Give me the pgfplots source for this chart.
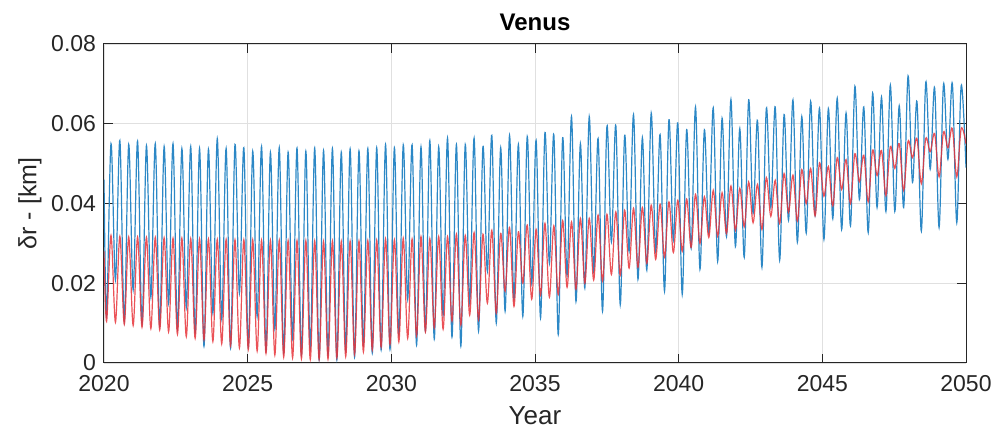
\documentclass[border=0pt]{standalone}
\usepackage{fontspec}
\setmainfont{Liberation Sans}
\usepackage{pgfplots}
\pgfplotsset{compat=1.18}
\definecolor{bl}{RGB}{44,136,198}
\definecolor{rd}{RGB}{232,52,58}
\definecolor{axc}{RGB}{38,38,38}
\begin{document}
\begin{tikzpicture}
\begin{axis}[
  scale only axis, width=431pt, height=159.5pt,
  xmin=2020, xmax=2050, ymin=0, ymax=0.08,
  scaled y ticks=false, scaled x ticks=false,
  xtick={2020,2025,2030,2035,2040,2045,2050},
  xticklabels={2020,2025,2030,2035,2040,2045,2050},
  ytick={0,0.02,0.04,0.06,0.08},
  yticklabels={0,0.02,0.04,0.06,0.08},
  tick align=inside, xtick pos=both, ytick pos=both,
  major tick length=4.5pt,
  grid=major, grid style={black!12, line width=0.4pt},
  axis line style={axc, line width=0.5pt},
  tick style={axc, line width=0.5pt},
  ticklabel style={font=\fontsize{11.5}{13}\selectfont, text=axc, inner sep=0pt},
  xticklabel style={yshift=-5.8pt},
  yticklabel style={xshift=-3.8pt},
  /pgf/number format/assume math mode=true,
  title={Venus},
  title style={at={(axis description cs:0.5,1.069)}, anchor=center, yshift=-6pt, font=\bfseries\fontsize{12}{14}\selectfont},
  xlabel={Year},
  xlabel style={at={(axis description cs:0.5,-0.166)}, anchor=center, font=\fontsize{13}{15}\selectfont, text=axc},
  ylabel={δr - [km]},
  ylabel style={at={(axis description cs:-0.086,0.5)}, anchor=center, rotate=0, font=\fontsize{12.5}{14}\selectfont, text=axc},
]
\coordinate (bl0) at (rel axis cs:0,0);
\addplot[bl, line width=0.6pt, smooth, tension=0.55] coordinates {
(2020.000,0.0460)
(2020.090,0.0117)(2020.244,0.0550)(2020.398,0.0208)(2020.552,0.0558)
(2020.706,0.0105)(2020.860,0.0548)(2021.015,0.0183)(2021.169,0.0556)
(2021.323,0.0098)(2021.477,0.0545)(2021.631,0.0165)(2021.785,0.0550)
(2021.939,0.0092)(2022.093,0.0543)(2022.248,0.0150)(2022.402,0.0550)
(2022.556,0.0085)(2022.710,0.0538)(2022.864,0.0140)(2023.018,0.0543)
(2023.172,0.0075)(2023.326,0.0538)(2023.480,0.0042)(2023.634,0.0536)
(2023.789,0.0125)(2023.943,0.0563)(2024.097,0.0110)(2024.251,0.0538)
(2024.405,0.0037)(2024.559,0.0548)(2024.713,0.0175)(2024.867,0.0540)
(2025.022,0.0040)(2025.176,0.0531)(2025.330,0.0117)(2025.484,0.0543)
(2025.638,0.0030)(2025.792,0.0528)(2025.946,0.0085)(2026.100,0.0540)
(2026.254,0.0025)(2026.408,0.0529)(2026.563,0.0060)(2026.717,0.0539)
(2026.871,0.0020)(2027.025,0.0531)(2027.179,0.0035)(2027.333,0.0539)
(2027.487,0.0008)(2027.641,0.0533)(2027.796,0.0020)(2027.950,0.0538)
(2028.104,0.0008)(2028.258,0.0529)(2028.412,0.0030)(2028.566,0.0537)
(2028.720,0.0015)(2028.874,0.0532)(2029.028,0.0045)(2029.182,0.0538)
(2029.337,0.0025)(2029.491,0.0540)(2029.645,0.0033)(2029.799,0.0548)
(2029.953,0.0034)(2030.107,0.0540)(2030.261,0.0070)(2030.415,0.0547)
(2030.569,0.0160)(2030.723,0.0547)(2030.878,0.0045)(2031.032,0.0542)
(2031.186,0.0080)(2031.340,0.0558)(2031.494,0.0060)(2031.648,0.0542)
(2031.802,0.0120)(2031.956,0.0564)(2032.111,0.0065)(2032.265,0.0548)
(2032.419,0.0042)(2032.573,0.0548)(2032.727,0.0150)(2032.881,0.0564)
(2033.035,0.0080)(2033.189,0.0543)(2033.343,0.0230)(2033.497,0.0571)
(2033.652,0.0100)(2033.806,0.0540)(2033.960,0.0130)(2034.114,0.0571)
(2034.268,0.0160)(2034.422,0.0548)(2034.576,0.0117)(2034.730,0.0568)
(2034.885,0.0200)(2035.039,0.0558)(2035.193,0.0113)(2035.347,0.0578)
(2035.501,0.0250)(2035.655,0.0573)(2035.809,0.0071)(2035.963,0.0565)
(2036.117,0.0220)(2036.271,0.0618)(2036.426,0.0154)(2036.580,0.0550)
(2036.734,0.0188)(2036.888,0.0618)(2037.042,0.0230)(2037.196,0.0563)
(2037.350,0.0130)(2037.504,0.0594)(2037.659,0.0304)(2037.813,0.0596)
(2037.967,0.0146)(2038.121,0.0571)(2038.275,0.0280)(2038.429,0.0623)
(2038.583,0.0210)(2038.737,0.0565)(2038.891,0.0233)(2039.045,0.0627)
(2039.200,0.0280)(2039.354,0.0573)(2039.508,0.0180)(2039.662,0.0610)
(2039.816,0.0308)(2039.970,0.0602)(2040.124,0.0172)(2040.278,0.0585)
(2040.433,0.0288)(2040.587,0.0642)(2040.741,0.0235)(2040.895,0.0585)
(2041.049,0.0325)(2041.203,0.0640)(2041.357,0.0255)(2041.511,0.0614)
(2041.665,0.0317)(2041.819,0.0661)(2041.974,0.0292)(2042.128,0.0588)
(2042.282,0.0265)(2042.436,0.0660)(2042.590,0.0375)(2042.744,0.0608)
(2042.898,0.0240)(2043.052,0.0639)(2043.207,0.0390)(2043.361,0.0642)
(2043.515,0.0258)(2043.669,0.0623)(2043.823,0.0358)(2043.977,0.0660)
(2044.131,0.0303)(2044.285,0.0618)(2044.439,0.0326)(2044.593,0.0656)
(2044.748,0.0370)(2044.902,0.0639)(2045.056,0.0310)(2045.210,0.0638)
(2045.364,0.0362)(2045.518,0.0664)(2045.672,0.0335)(2045.826,0.0627)
(2045.980,0.0344)(2046.134,0.0694)(2046.289,0.0410)(2046.443,0.0642)
(2046.597,0.0327)(2046.751,0.0677)(2046.905,0.0390)(2047.059,0.0667)
(2047.213,0.0380)(2047.367,0.0697)(2047.522,0.0380)(2047.676,0.0645)
(2047.830,0.0390)(2047.984,0.0720)(2048.138,0.0453)(2048.292,0.0656)
(2048.446,0.0331)(2048.600,0.0704)(2048.754,0.0486)(2048.908,0.0690)
(2049.063,0.0340)(2049.217,0.0699)(2049.371,0.0511)(2049.525,0.0701)
(2049.679,0.0352)(2049.833,0.0696)(2050.000,0.0490)
};
\addplot[rd, line width=0.6pt, opacity=0.85, smooth, tension=0.55] coordinates {
(2020.000,0.0280)
(2020.090,0.0104)(2020.244,0.0320)(2020.398,0.0102)(2020.552,0.0318)
(2020.706,0.0097)(2020.860,0.0316)(2021.015,0.0094)(2021.169,0.0316)
(2021.323,0.0090)(2021.477,0.0315)(2021.631,0.0086)(2021.785,0.0315)
(2021.939,0.0083)(2022.093,0.0314)(2022.248,0.0078)(2022.402,0.0313)
(2022.556,0.0072)(2022.710,0.0313)(2022.864,0.0066)(2023.018,0.0312)
(2023.172,0.0062)(2023.326,0.0312)(2023.480,0.0058)(2023.634,0.0311)
(2023.789,0.0054)(2023.943,0.0310)(2024.097,0.0048)(2024.251,0.0310)
(2024.405,0.0043)(2024.559,0.0309)(2024.713,0.0038)(2024.867,0.0309)
(2025.022,0.0034)(2025.176,0.0309)(2025.330,0.0030)(2025.484,0.0308)
(2025.638,0.0024)(2025.792,0.0308)(2025.946,0.0020)(2026.100,0.0308)
(2026.254,0.0015)(2026.408,0.0307)(2026.563,0.0013)(2026.717,0.0307)
(2026.871,0.0011)(2027.025,0.0307)(2027.179,0.0009)(2027.333,0.0306)
(2027.487,0.0009)(2027.641,0.0305)(2027.796,0.0010)(2027.950,0.0306)
(2028.104,0.0013)(2028.258,0.0305)(2028.412,0.0016)(2028.566,0.0306)
(2028.720,0.0022)(2028.874,0.0306)(2029.028,0.0028)(2029.182,0.0307)
(2029.337,0.0033)(2029.491,0.0308)(2029.645,0.0040)(2029.799,0.0311)
(2029.953,0.0047)(2030.107,0.0309)(2030.261,0.0053)(2030.415,0.0313)
(2030.569,0.0062)(2030.723,0.0311)(2030.878,0.0068)(2031.032,0.0317)
(2031.186,0.0078)(2031.340,0.0312)(2031.494,0.0088)(2031.648,0.0317)
(2031.802,0.0085)(2031.956,0.0317)(2032.111,0.0105)(2032.265,0.0323)
(2032.419,0.0095)(2032.573,0.0320)(2032.727,0.0120)(2032.881,0.0327)
(2033.035,0.0108)(2033.189,0.0323)(2033.343,0.0150)(2033.497,0.0333)
(2033.652,0.0125)(2033.806,0.0325)(2033.960,0.0180)(2034.114,0.0340)
(2034.268,0.0142)(2034.422,0.0329)(2034.576,0.0200)(2034.730,0.0346)
(2034.885,0.0160)(2035.039,0.0335)(2035.193,0.0170)(2035.347,0.0350)
(2035.501,0.0165)(2035.655,0.0344)(2035.809,0.0172)(2035.963,0.0357)
(2036.117,0.0190)(2036.271,0.0354)(2036.426,0.0185)(2036.580,0.0363)
(2036.734,0.0200)(2036.888,0.0363)(2037.042,0.0208)(2037.196,0.0371)
(2037.350,0.0205)(2037.504,0.0373)(2037.659,0.0222)(2037.813,0.0379)
(2037.967,0.0220)(2038.121,0.0383)(2038.275,0.0238)(2038.429,0.0388)
(2038.583,0.0240)(2038.737,0.0390)(2038.891,0.0250)(2039.045,0.0396)
(2039.200,0.0260)(2039.354,0.0398)(2039.508,0.0265)(2039.662,0.0404)
(2039.816,0.0277)(2039.970,0.0408)(2040.124,0.0280)(2040.278,0.0411)
(2040.433,0.0290)(2040.587,0.0423)(2040.741,0.0300)(2040.895,0.0417)
(2041.049,0.0315)(2041.203,0.0433)(2041.357,0.0318)(2041.511,0.0427)
(2041.665,0.0325)(2041.819,0.0444)(2041.974,0.0333)(2042.128,0.0438)
(2042.282,0.0342)(2042.436,0.0454)(2042.590,0.0352)(2042.744,0.0448)
(2042.898,0.0335)(2043.052,0.0465)(2043.207,0.0368)(2043.361,0.0458)
(2043.515,0.0350)(2043.669,0.0475)(2043.823,0.0378)(2043.977,0.0471)
(2044.131,0.0356)(2044.285,0.0485)(2044.439,0.0400)(2044.593,0.0488)
(2044.748,0.0369)(2044.902,0.0502)(2045.056,0.0418)(2045.210,0.0493)
(2045.364,0.0394)(2045.518,0.0515)(2045.672,0.0435)(2045.826,0.0510)
(2045.980,0.0400)(2046.134,0.0525)(2046.289,0.0455)(2046.443,0.0521)
(2046.597,0.0404)(2046.751,0.0534)(2046.905,0.0470)(2047.059,0.0533)
(2047.213,0.0420)(2047.367,0.0543)(2047.522,0.0488)(2047.676,0.0550)
(2047.830,0.0433)(2047.984,0.0556)(2048.138,0.0515)(2048.292,0.0563)
(2048.446,0.0450)(2048.600,0.0563)(2048.754,0.0530)(2048.908,0.0575)
(2049.063,0.0467)(2049.217,0.0579)(2049.371,0.0540)(2049.525,0.0588)
(2049.679,0.0467)(2049.833,0.0588)(2050.000,0.0550)
};
\end{axis}
\pgfresetboundingbox
\path (bl0) ++(-52pt,-37.5pt) rectangle ++(497.5pt,219pt);
\end{tikzpicture}
\end{document}
